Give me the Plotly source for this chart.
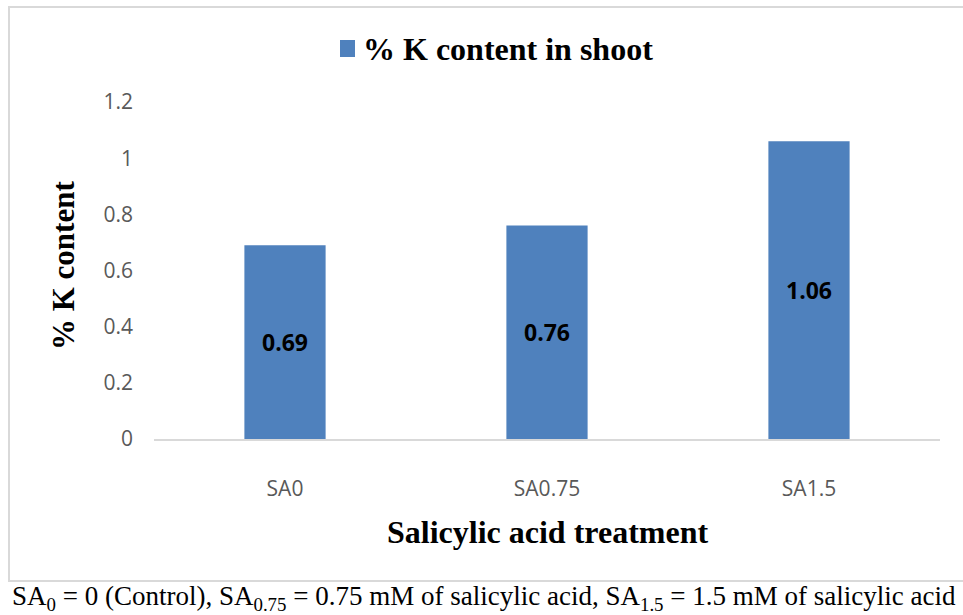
import plotly.graph_objects as go

# Potassium content of shoots under salicylic acid treatments
treatments = ["SA0", "SA0.75", "SA1.5"]
k_content = [0.69, 0.76, 1.06]
series_name = "% K content in shoot"
y_ticks = [0, 0.2, 0.4, 0.6, 0.8, 1, 1.2]

BAR_BLUE = "#4f81bd"
W, H = 963, 615
L, R, T, B = 154, 23, 102, 176
PW, PH = W - L - R, H - T - B


def px(x):
    return (x - L) / PW


def py(y):
    return (H - B - y) / PH


fig = go.Figure(
    go.Bar(
        x=treatments,
        y=k_content,
        name=series_name,
        width=0.31,
        marker=dict(color=BAR_BLUE, line=dict(width=0)),
        text=[f"{v:.2f}" for v in k_content],
        textposition="inside",
        insidetextanchor="middle",
        textangle=0,
        textfont=dict(family="Open Sans", size=23, color="black", weight="bold"),
        showlegend=False,
    )
)

fig.update_layout(
    width=W,
    height=H,
    margin=dict(l=L, r=R, t=T, b=B),
    paper_bgcolor="white",
    plot_bgcolor="white",
    uniformtext=dict(mode=False),
    xaxis=dict(
        type="category",
        range=[-0.5, 2.5],
        showgrid=False,
        showline=True,
        linecolor="#d9d9d9",
        linewidth=2,
        ticks="",
        ticklabelstandoff=30,
        tickfont=dict(family="Open Sans", size=21, color="#595959"),
    ),
    yaxis=dict(
        range=[0, 1.2],
        tickvals=y_ticks,
        ticktext=[f"{v:g}" for v in y_ticks],
        showgrid=False,
        zeroline=False,
        showline=False,
        ticks="",
        ticklabelstandoff=20,
        tickfont=dict(family="Open Sans", size=21, color="#595959"),
    ),
    shapes=[
        # chart frame
        dict(type="rect", xref="paper", yref="paper",
             x0=px(9), x1=px(975), y0=py(581), y1=py(7),
             line=dict(color="#d9d9d9", width=2), fillcolor="rgba(0,0,0,0)",
             layer="below"),
        # legend swatch
        dict(type="rect", xref="paper", yref="paper",
             x0=px(340), x1=px(355), y0=py(57), y1=py(40),
             line=dict(width=0), fillcolor=BAR_BLUE),
    ],
    annotations=[
        dict(text=f"<b>{series_name}</b>", xref="paper", yref="paper",
             x=px(361), y=py(49), xanchor="left", yanchor="middle",
             showarrow=False,
             font=dict(family="Liberation Serif", size=32, color="black")),
        dict(text="<b>% K content</b>", xref="paper", yref="paper",
             x=px(63), y=py(266), xanchor="center", yanchor="middle",
             textangle=-90, showarrow=False,
             font=dict(family="Liberation Serif", size=31, color="black")),
        dict(text="<b>Salicylic acid treatment</b>", xref="paper", yref="paper",
             x=px(547), y=py(532), xanchor="center", yanchor="middle",
             showarrow=False,
             font=dict(family="Liberation Serif", size=32, color="black")),
        dict(text="SA<sub>0</sub> = 0 (Control), SA<sub>0.75</sub> = 0.75 mM of salicylic acid, "
                  "SA<sub>1.5</sub> = 1.5 mM of salicylic acid",
             xref="paper", yref="paper",
             x=px(484), y=py(598), xanchor="center", yanchor="middle",
             showarrow=False,
             font=dict(family="Liberation Serif", size=27, color="black")),
    ],
)

fig.write_html("out.html")
